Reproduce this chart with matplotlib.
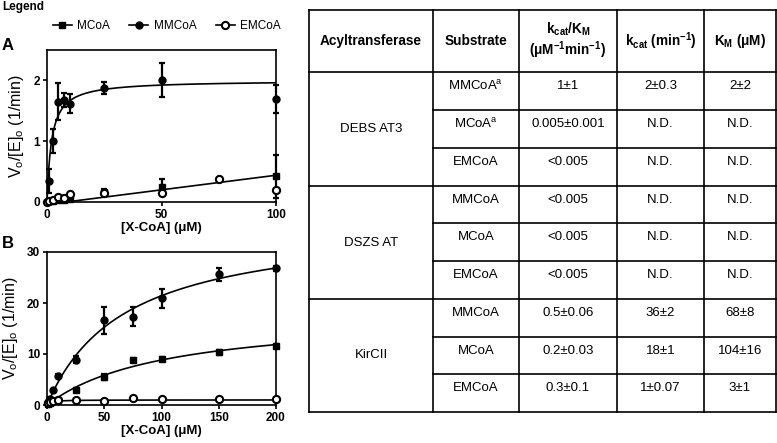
import numpy as np
import matplotlib
matplotlib.use("Agg")
import matplotlib.pyplot as plt
from matplotlib.lines import Line2D

plt.rcParams['font.family'] = ['Liberation Sans', 'DejaVu Sans']
plt.rcParams['mathtext.default'] = 'regular'

# ---------------- data ----------------
# Panel A (DEBS AT3)
A_x = [1, 2.5, 5, 7.5, 10, 25, 50, 100]
A_mmcoa = [0.35, 1.0, 1.65, 1.68, 1.62, 1.88, 2.0, 1.7]
A_mmcoa_err = [0.2, 0.2, 0.3, 0.12, 0.15, 0.1, 0.28, 0.23]
A_mcoa = [0.01, 0.02, 0.03, 0.04, 0.05, 0.17, 0.25, 0.42]
A_mcoa_err = [0.02, 0.02, 0.02, 0.03, 0.04, 0.05, 0.13, 0.35]
A_em_x = [0, 1, 2.5, 5, 7.5, 10, 25, 50, 75, 100]
A_emcoa = [0, 0.02, 0.03, 0.08, 0.06, 0.13, 0.14, 0.14, 0.38, 0.2]
A_line_x = [0, 100]
A_line_y = [-0.04, 0.44]

# Panel B (KirCII)
B_x = [1, 2.5, 5, 10, 25, 50, 75, 100, 150, 200]
B_mmcoa = [0.6, 1.2, 2.9, 5.7, 8.9, 16.6, 17.3, 20.9, 25.6, 26.8]
B_mmcoa_err = [0.2, 0.3, 0.3, 0.3, 0.7, 2.6, 1.9, 1.8, 1.2, 0.5]
B_mcoa = [0.2, 0.4, 0.7, 1.0, 3.0, 5.5, 8.9, 9.0, 10.3, 11.6]
B_mcoa_err = [0.1, 0.1, 0.1, 0.2, 0.3, 0.5, 0.3, 0.4, 0.5, 0.4]
B_emcoa = [0.3, 0.6, 0.8, 0.9, 0.9, 0.8, 1.3, 1.1, 1.2, 1.2]

# fitted Michaelis-Menten parameters (from the table)
fit_A_mm = (2.0, 2.0)        # kcat, KM  DEBS AT3 MMCoA
fit_B = {'MMCoA': (36.0, 68.0), 'MCoA': (18.0, 104.0), 'EMCoA': (1.0, 3.0)}

# Table
col_headers = ["Acyltransferase", "Substrate",
               "k$_{cat}$/K$_M$\n(\u03bcM$^{-1}$min$^{-1}$)",
               "k$_{cat}$ (min$^{-1}$)", "K$_M$ (\u03bcM)"]
enzymes = ["DEBS AT3", "DSZS AT", "KirCII"]
substrates = [["MMCoA$^a$", "MCoA$^a$", "EMCoA"],
              ["MMCoA", "MCoA", "EMCoA"],
              ["MMCoA", "MCoA", "EMCoA"]]
kcat_km = [["1\u00b11", "0.005\u00b10.001", "<0.005"],
           ["<0.005", "<0.005", "<0.005"],
           ["0.5\u00b10.06", "0.2\u00b10.03", "0.3\u00b10.1"]]
kcat = [["2\u00b10.3", "N.D.", "N.D."],
        ["N.D.", "N.D.", "N.D."],
        ["36\u00b12", "18\u00b11", "1\u00b10.07"]]
km = [["2\u00b12", "N.D.", "N.D."],
      ["N.D.", "N.D.", "N.D."],
      ["68\u00b18", "104\u00b116", "3\u00b11"]]

# ---------------- figure ----------------
W, H = 777, 443
fig = plt.figure(figsize=(W / 100, H / 100), dpi=100)

def fx(px):
    return px / W

def fy(py):
    return 1 - py / H

axA = fig.add_axes([fx(47), fy(202), fx(276) - fx(47), fy(50) - fy(202)])
axB = fig.add_axes([fx(47), fy(405), fx(276) - fx(47), fy(252) - fy(405)])

sq_kw = dict(marker='s', ms=5, color='black', mfc='black', ls='none')
ci_kw = dict(marker='o', ms=5, color='black', mfc='black', ls='none')
oc_kw = dict(marker='o', ms=5.2, color='black', mfc='white', mew=1.5, ls='none')
eb_kw = dict(elinewidth=1.6, capsize=2.5, capthick=1.6, ecolor='black')

def mm(x, p):
    return p[0] * x / (p[1] + x)

# Panel A
xs = np.linspace(0, 100, 400)
axA.plot(xs, mm(xs, fit_A_mm), color='black', lw=1.2)
axA.plot(A_line_x, A_line_y, color='black', lw=1.2)
axA.errorbar(A_x, A_mmcoa, yerr=A_mmcoa_err, **ci_kw, **eb_kw, clip_on=False, zorder=3)
axA.errorbar(A_x, A_mcoa, yerr=A_mcoa_err, **sq_kw, **eb_kw, clip_on=False, zorder=3)
axA.plot(A_em_x, A_emcoa, **oc_kw, clip_on=False, zorder=4)
axA.set_xlim(0, 100)
axA.set_ylim(0, 2.5)
axA.set_xticks([0, 50, 100])
axA.set_yticks([0, 1, 2])

# Panel B
xs = np.linspace(0, 200, 400)
for k in ['MMCoA', 'MCoA', 'EMCoA']:
    axB.plot(xs, mm(xs, fit_B[k]), color='black', lw=1.2)
axB.errorbar(B_x, B_mmcoa, yerr=B_mmcoa_err, **ci_kw, **eb_kw, clip_on=False, zorder=3)
axB.errorbar(B_x, B_mcoa, yerr=B_mcoa_err, **sq_kw, **eb_kw, clip_on=False, zorder=3)
axB.plot(B_x, B_emcoa, **oc_kw, clip_on=False, zorder=4)
axB.set_xlim(0, 200)
axB.set_ylim(0, 30)
axB.set_xticks([0, 50, 100, 150, 200])
axB.set_yticks([0, 10, 20, 30])

for ax in (axA, axB):
    for s in ax.spines.values():
        s.set_linewidth(1.2)
    ax.tick_params(direction='out', length=3, width=1.2, labelsize=8.5, pad=2)
    for lab in ax.get_xticklabels() + ax.get_yticklabels():
        lab.set_fontweight('bold')
    ax.set_xlabel("[X-CoA] (\u03bcM)", fontsize=9.5, fontweight='bold', labelpad=1)
    ax.set_ylabel("V$_o$/[E]$_o$ (1/min)", fontsize=11.5, labelpad=5)

# Overlay axes in pixel coordinates for text and table
ov = fig.add_axes([0, 0, 1, 1], zorder=-1)
ov.set_xlim(0, W)
ov.set_ylim(H, 0)
ov.axis('off')

ov.text(2, 7, "Legend", fontsize=8.5, fontweight='bold', ha='left', va='center')
ov.text(2, 45, "A", fontsize=12, fontweight='bold', ha='left', va='center')
ov.text(2, 243, "B", fontsize=12, fontweight='bold', ha='left', va='center')

handles = [Line2D([], [], color='black', lw=1.2, marker='s', ms=5),
           Line2D([], [], color='black', lw=1.2, marker='o', ms=5),
           Line2D([], [], color='black', lw=1.2, marker='o', ms=5.2, mfc='white', mew=1.5)]
fig.legend(handles, ["MCoA", "MMCoA", "EMCoA"], loc='center left',
           bbox_to_anchor=(fx(42), fy(26)), ncol=3, frameon=False,
           fontsize=8.5, handlelength=1.6, columnspacing=1.6, handletextpad=0.5)

# Table
col_x = [309, 433, 519, 617, 704, 776]
row_y = [10, 72, 110, 148, 186, 223, 261, 299, 337, 374, 412]
lw = 1.2
for x in col_x:
    ov.plot([x, x], [row_y[0], row_y[-1]], color='black', lw=lw, solid_capstyle='projecting')
ov.plot([col_x[0], col_x[-1]], [row_y[0], row_y[0]], color='black', lw=lw)
ov.plot([col_x[0], col_x[-1]], [row_y[1], row_y[1]], color='black', lw=lw)
ov.plot([col_x[0], col_x[-1]], [row_y[-1], row_y[-1]], color='black', lw=lw)
for g in range(1, 3):
    y = row_y[1 + 3 * g]
    ov.plot([col_x[0], col_x[-1]], [y, y], color='black', lw=lw)
for r in range(2, 10):
    if (r - 1) % 3 != 0:
        ov.plot([col_x[1], col_x[-1]], [row_y[r], row_y[r]], color='black', lw=lw)

fs = 9.5
for c, h in enumerate(col_headers):
    cx = (col_x[c] + col_x[c + 1]) / 2
    ov.text(cx, (row_y[0] + row_y[1]) / 2, h, fontsize=9.8, fontweight='bold',
            ha='center', va='center', linespacing=1.1)

for g, enz in enumerate(enzymes):
    top = row_y[1 + 3 * g]
    bot = row_y[1 + 3 * g + 3]
    ov.text((col_x[0] + col_x[1]) / 2, (top + bot) / 2, enz, fontsize=fs,
            ha='center', va='center')
    for i in range(3):
        ry = (row_y[1 + 3 * g + i] + row_y[2 + 3 * g + i]) / 2 - 5
        vals = [substrates[g][i], kcat_km[g][i], kcat[g][i], km[g][i]]
        for c, v in enumerate(vals):
            cx = (col_x[c + 1] + col_x[c + 2]) / 2
            ov.text(cx, ry, v, fontsize=fs, ha='center', va='center')

fig.savefig("out.png", dpi=100)
